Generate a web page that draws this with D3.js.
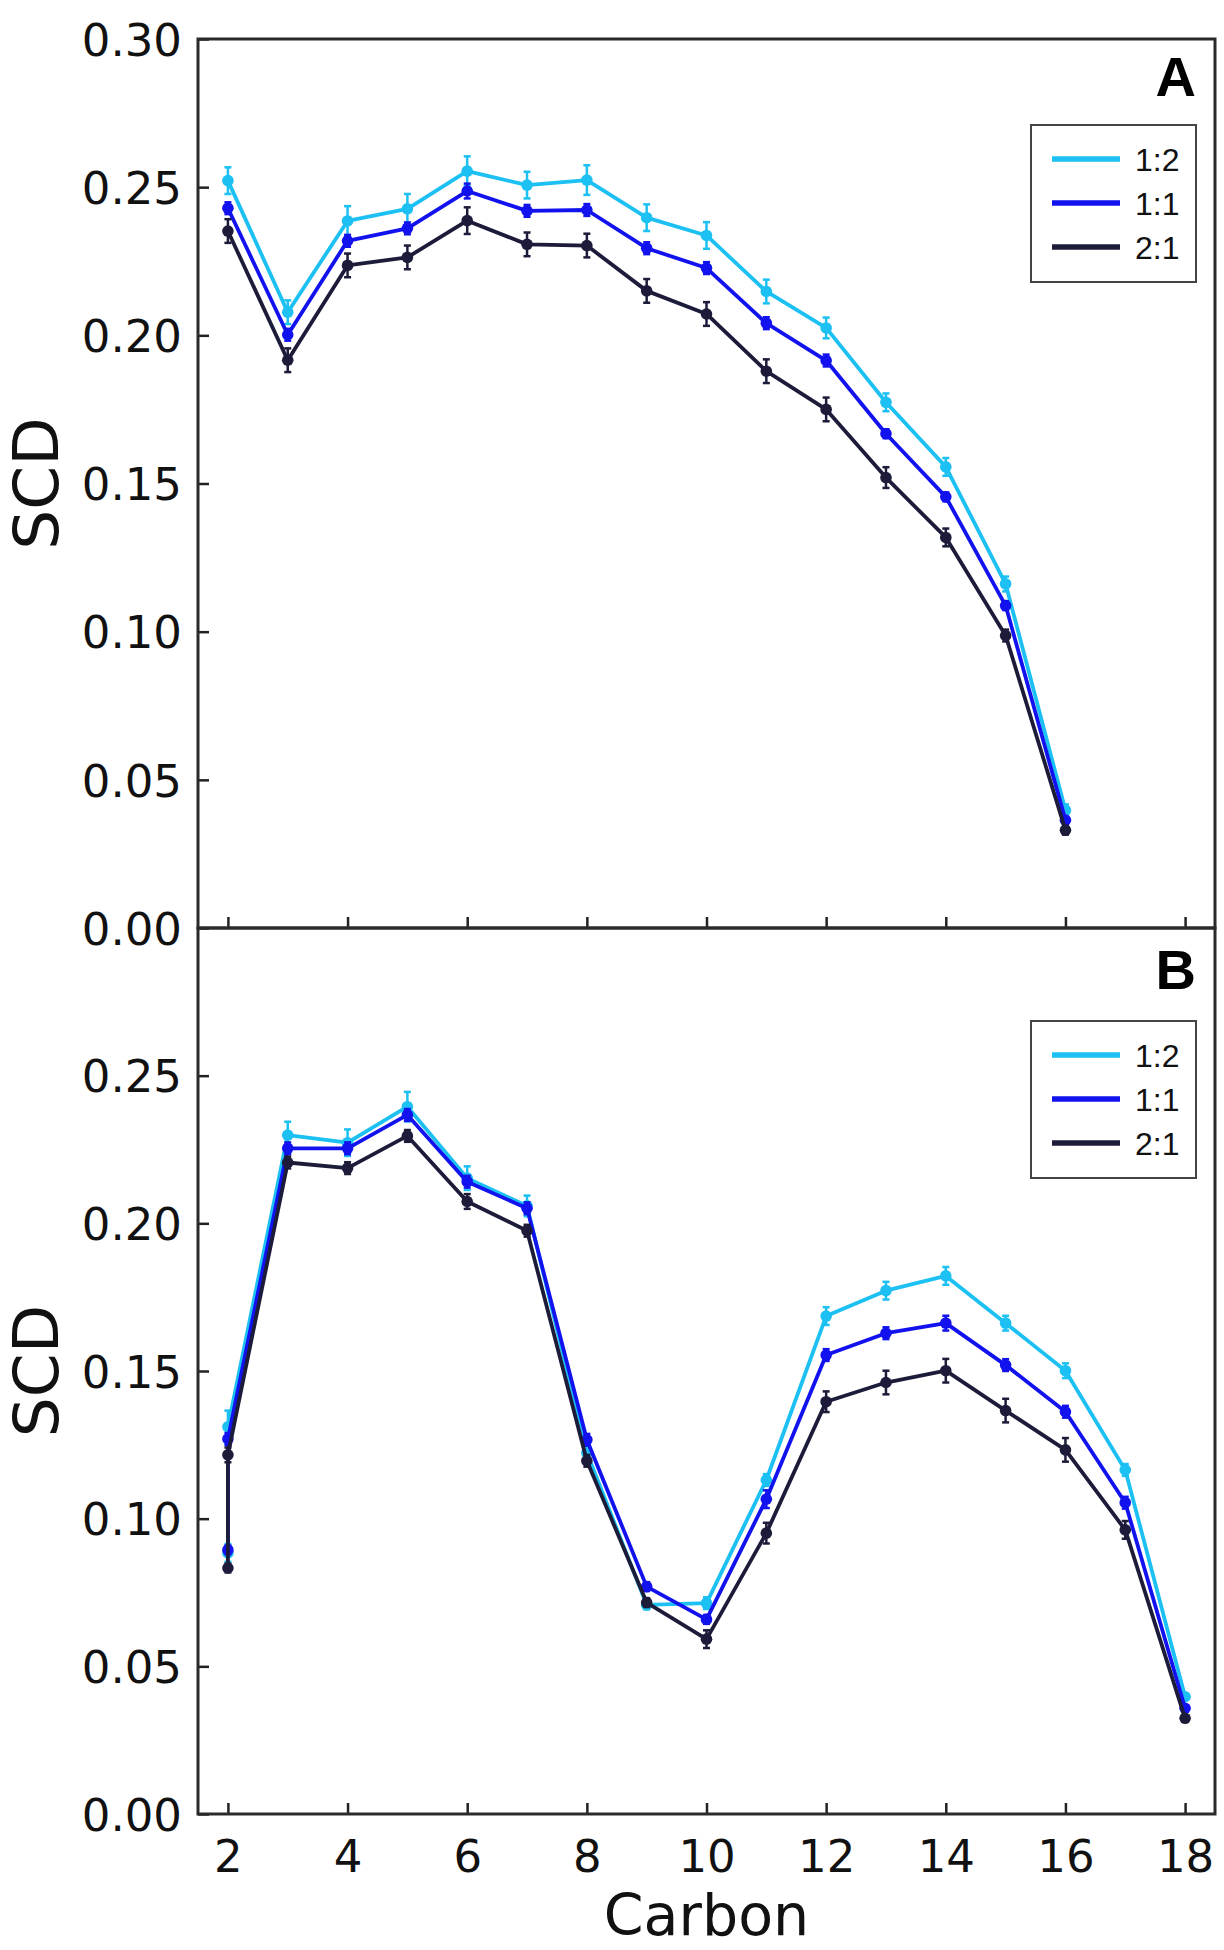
<!DOCTYPE html>
<html>
<head>
<meta charset="utf-8">
<script src="https://cdn.jsdelivr.net/npm/d3@7/dist/d3.min.js"></script>
<style>
  html, body { margin: 0; padding: 0; background: #fff; }
  svg { display: block; }
</style>
</head>
<body>
<svg id="chart" width="1224" height="1950"></svg>
<script>
// ---------- DATA ----------
const seriesNames = ["1:2", "1:1", "2:1"];
const seriesColors = ["#1cc0f2", "#1212ee", "#1c1c3a"];

// Panel A
const carbonsA = [2, 3, 4, 5, 6, 7, 8, 9, 10, 11, 12, 13, 14, 15, 16];
const scdA_12 = [0.2522, 0.2078, 0.2386, 0.2427, 0.2554, 0.2507, 0.2524, 0.2397, 0.2337, 0.2148, 0.2025, 0.1774, 0.1556, 0.1161, 0.0397];
const scdA_11 = [0.2429, 0.2002, 0.2319, 0.2361, 0.2487, 0.2420, 0.2423, 0.2294, 0.2227, 0.2041, 0.1915, 0.1668, 0.1455, 0.1088, 0.0364];
const scdA_21 = [0.2352, 0.1916, 0.2236, 0.2263, 0.2387, 0.2307, 0.2303, 0.2150, 0.2072, 0.1879, 0.1750, 0.1520, 0.1318, 0.0987, 0.0330];
const errA_12 = [0.0045, 0.0040, 0.0050, 0.0050, 0.0050, 0.0045, 0.0050, 0.0045, 0.0045, 0.0040, 0.0035, 0.0030, 0.0030, 0.0025, 0.0020];
const errA_11 = [0.0020, 0.0020, 0.0020, 0.0020, 0.0025, 0.0020, 0.0020, 0.0020, 0.0020, 0.0020, 0.0020, 0.0015, 0.0015, 0.0015, 0.0010];
const errA_21 = [0.0040, 0.0040, 0.0040, 0.0040, 0.0045, 0.0040, 0.0040, 0.0040, 0.0040, 0.0040, 0.0040, 0.0035, 0.0030, 0.0020, 0.0015];

// Panel B (carbon 2 appears twice: two values at C2)
const carbonsB = [2, 2, 3, 4, 5, 6, 7, 8, 9, 10, 11, 12, 13, 14, 15, 16, 17, 18];
const scdB_12 = [0.0884, 0.1311, 0.2299, 0.2273, 0.2395, 0.2153, 0.2059, 0.1223, 0.0708, 0.0714, 0.1131, 0.1686, 0.1772, 0.1822, 0.1662, 0.1501, 0.1165, 0.0397];
const scdB_11 = [0.0894, 0.1270, 0.2254, 0.2254, 0.2367, 0.2141, 0.2051, 0.1267, 0.0770, 0.0659, 0.1066, 0.1554, 0.1628, 0.1662, 0.1520, 0.1362, 0.1054, 0.0358];
const scdB_21 = [0.0833, 0.1216, 0.2206, 0.2187, 0.2296, 0.2074, 0.1975, 0.1196, 0.0716, 0.0592, 0.0951, 0.1396, 0.1461, 0.1501, 0.1366, 0.1233, 0.0962, 0.0324];
const errB_12 = [0.0030, 0.0055, 0.0045, 0.0045, 0.0050, 0.0040, 0.0035, 0.0020, 0.0015, 0.0020, 0.0020, 0.0030, 0.0030, 0.0030, 0.0025, 0.0025, 0.0020, 0.0010];
const errB_11 = [0.0015, 0.0020, 0.0020, 0.0020, 0.0020, 0.0020, 0.0020, 0.0020, 0.0015, 0.0015, 0.0030, 0.0020, 0.0020, 0.0025, 0.0020, 0.0020, 0.0020, 0.0010];
const errB_21 = [0.0015, 0.0025, 0.0020, 0.0020, 0.0020, 0.0025, 0.0020, 0.0020, 0.0015, 0.0030, 0.0035, 0.0035, 0.0040, 0.0040, 0.0040, 0.0040, 0.0030, 0.0010];

const xTicks = [2, 4, 6, 8, 10, 12, 14, 16, 18];
const yTicksA = [0, 0.05, 0.10, 0.15, 0.20, 0.25, 0.30];
const yTicksB = [0, 0.05, 0.10, 0.15, 0.20, 0.25];
const yLabel = "SCD";
const xLabel = "Carbon";
const panelLabels = ["A", "B"];

// ---------- LAYOUT ----------
const svg = d3.select("#chart");
const left = 198, right = 1215;
const x = d3.scaleLinear().domain([1.5, 18.5]).range([left, right]);

const panels = [
  { label: panelLabels[0], top: 39, bottom: 928, carbons: carbonsA,
    vals: [scdA_12, scdA_11, scdA_21], errs: [errA_12, errA_11, errA_21],
    yTicks: yTicksA, showX: false, legendTop: 125, labelBase: 96 },
  { label: panelLabels[1], top: 928, bottom: 1814, carbons: carbonsB,
    vals: [scdB_12, scdB_11, scdB_21], errs: [errB_12, errB_11, errB_21],
    yTicks: yTicksB, showX: true, legendTop: 1021, labelBase: 989 }
];

const tickFont = "'DejaVu Sans', Verdana, sans-serif";

panels.forEach(p => {
  const y = d3.scaleLinear().domain([0, 0.30]).range([p.bottom, p.top]);
  const g = svg.append("g");

  // Y axis
  const yAxis = d3.axisLeft(y).tickValues(p.yTicks).tickFormat(d3.format(".2f"))
    .tickSizeInner(-11).tickSizeOuter(0).tickPadding(16);
  const ya = g.append("g").attr("transform", `translate(${left},0)`).call(yAxis);
  ya.select(".domain").remove();
  ya.selectAll(".tick line").attr("stroke", "#222").attr("stroke-width", 2.5);
  ya.selectAll(".tick text").attr("font-family", tickFont).attr("font-size", 45)
    .attr("fill", "#111").attr("dy", "0.36em");

  // X axis
  const xAxis = d3.axisBottom(x).tickValues(xTicks).tickFormat(p.showX ? d3.format("d") : () => "")
    .tickSizeInner(-11).tickSizeOuter(0).tickPadding(26);
  const xa = g.append("g").attr("transform", `translate(0,${p.bottom})`).call(xAxis);
  xa.select(".domain").remove();
  xa.selectAll(".tick line").attr("stroke", "#222").attr("stroke-width", 2.5);
  xa.selectAll(".tick text").attr("font-family", tickFont).attr("font-size", 45)
    .attr("fill", "#111").attr("dy", "0.71em");

  // Frame
  g.append("rect").attr("x", left).attr("y", p.top)
    .attr("width", right - left).attr("height", p.bottom - p.top)
    .attr("fill", "none").attr("stroke", "#2a2a2a").attr("stroke-width", 3);

  // Series
  const line = d3.line().x(d => x(d.c)).y(d => y(d.v));
  p.vals.forEach((vals, si) => {
    const pts = p.carbons.map((c, i) => ({ c, v: vals[i], e: p.errs[si][i] }));
    const col = seriesColors[si];
    const sg = g.append("g");
    sg.append("path").datum(pts).attr("d", line).attr("fill", "none")
      .attr("stroke", col).attr("stroke-width", 3.8).attr("stroke-linejoin", "round");
    // error bars
    sg.selectAll(".eb").data(pts).enter().append("line")
      .attr("x1", d => x(d.c)).attr("x2", d => x(d.c))
      .attr("y1", d => y(d.v - d.e)).attr("y2", d => y(d.v + d.e))
      .attr("stroke", col).attr("stroke-width", 2.5);
    sg.selectAll(".capt").data(pts).enter().append("line")
      .attr("x1", d => x(d.c) - 3.5).attr("x2", d => x(d.c) + 3.5)
      .attr("y1", d => y(d.v + d.e)).attr("y2", d => y(d.v + d.e))
      .attr("stroke", col).attr("stroke-width", 2.5);
    sg.selectAll(".capb").data(pts).enter().append("line")
      .attr("x1", d => x(d.c) - 3.5).attr("x2", d => x(d.c) + 3.5)
      .attr("y1", d => y(d.v - d.e)).attr("y2", d => y(d.v - d.e))
      .attr("stroke", col).attr("stroke-width", 2.5);
    sg.selectAll(".pt").data(pts).enter().append("circle")
      .attr("cx", d => x(d.c)).attr("cy", d => y(d.v)).attr("r", 5.8)
      .attr("fill", col);
  });

  // Panel label
  g.append("text").attr("x", 1196).attr("y", p.labelBase).attr("text-anchor", "end")
    .attr("font-family", "'Liberation Sans', Arial, sans-serif").attr("font-weight", "bold")
    .attr("font-size", 56).attr("fill", "#000").text(p.label);

  // Legend
  const lx = 1031, lw = 165, lh = 157, lt = p.legendTop;
  g.append("rect").attr("x", lx).attr("y", lt).attr("width", lw).attr("height", lh)
    .attr("fill", "#fff").attr("stroke", "#444").attr("stroke-width", 2);
  seriesNames.forEach((name, i) => {
    const ly = lt + 34 + i * 44;
    g.append("line").attr("x1", lx + 21).attr("x2", lx + 89).attr("y1", ly).attr("y2", ly)
      .attr("stroke", seriesColors[i]).attr("stroke-width", 5.5);
    g.append("text").attr("x", lx + 104).attr("y", ly).attr("dy", "0.36em")
      .attr("font-family", "'Liberation Sans', Arial, sans-serif").attr("font-size", 32)
      .attr("fill", "#111").text(name);
  });

  // Y label
  g.append("text")
    .attr("transform", `translate(58,${(p.top + p.bottom) / 2}) rotate(-90)`)
    .attr("text-anchor", "middle").attr("font-family", tickFont).attr("font-size", 63)
    .attr("fill", "#111").text(yLabel);
});

// X label
svg.append("text").attr("x", (left + right) / 2).attr("y", 1935).attr("text-anchor", "middle")
  .attr("font-family", tickFont).attr("font-size", 57).attr("fill", "#111").text(xLabel);
</script>
</body>
</html>
